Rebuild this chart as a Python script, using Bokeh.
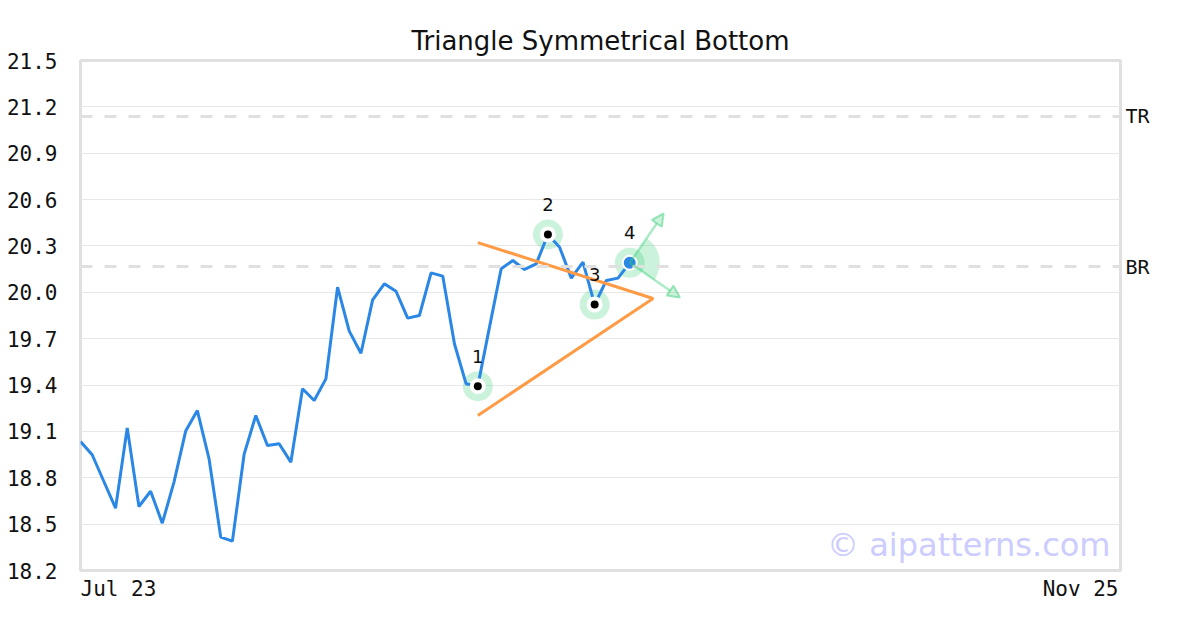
from bokeh.plotting import figure
from bokeh.models import (Range1d, FixedTicker, Span, Label, Arrow, NormalHead,
                          ColumnDataSource, PrintfTickFormatter, LinearAxis)
from bokeh.core.properties import value
from bokeh.embed import file_html
from bokeh.resources import INLINE
import math

# ---------------- data ----------------
title = "Triangle Symmetrical Bottom"
prices = [19.035, 18.949, 18.776, 18.603, 19.123, 18.614, 18.713, 18.506, 18.772, 19.102,
          19.235, 18.923, 18.416, 18.39, 18.951, 19.203, 19.009, 19.02, 18.901, 19.376,
          19.30, 19.44, 20.033, 19.749, 19.606, 19.951, 20.055, 20.007, 19.833, 19.85,
          20.126, 20.105, 19.667, 19.408, 19.393, 19.775, 20.152, 20.206, 20.148, 20.184,
          20.374, 20.292, 20.092, 20.195, 19.921, 20.077, 20.092, 20.191]
x_idx = list(range(len(prices)))
x_end = 89
x_tick_labels = ["Jul 23", "Nov 25"]
y_ticks = [18.2, 18.5, 18.8, 19.1, 19.4, 19.7, 20.0, 20.3, 20.6, 20.9, 21.2, 21.5]

pattern_idx = [34, 40, 44, 47]
pattern_labels = ["1", "2", "3", "4"]

tri_x = [34, 49, 34]
tri_y = [20.322, 19.96, 19.203]

level_names = ["TR", "BR"]
level_values = [21.138, 20.167]

arrow_targets_x = [49.9, 51.3]
arrow_targets_y = [20.51, 19.967]

watermark = "\u00a9 aipatterns.com"

# ---------------- layout constants ----------------
W, H = 1184, 614
BL, BR_, BT, BB = 80, 64, 60, 44
X_FONT_PX = 21
frame_w = W - BL - BR_
px_per_unit = frame_w / x_end

# ---------------- figure ----------------
p = figure(width=W, height=H, output_backend="svg", toolbar_location=None,
           x_range=Range1d(0, x_end), y_range=Range1d(y_ticks[0], y_ticks[-1]),
           min_border_left=BL, min_border_right=BR_, min_border_top=BT, min_border_bottom=BB,
           title=title)
p.title.align = "center"
p.title.text_font = "DejaVu Sans"
p.title.text_font_size = "26px"
p.title.text_font_style = "normal"
p.title.text_color = "#111111"
p.title.standoff = 10

p.xgrid.visible = False
p.yaxis.ticker = FixedTicker(ticks=y_ticks)
p.yaxis.formatter = PrintfTickFormatter(format="%.1f")
p.yaxis.major_label_text_font = "DejaVu Sans Mono"
p.yaxis.major_label_text_font_size = "21px"
p.yaxis.major_label_text_color = "#111111"
p.yaxis.axis_line_color = None
p.yaxis.major_tick_line_color = None
p.yaxis.major_tick_out = 0
p.yaxis.minor_tick_line_color = None
p.yaxis.major_label_standoff = 23
p.ygrid.ticker = FixedTicker(ticks=y_ticks)
p.ygrid.grid_line_color = "#e8e8e8"
p.ygrid.grid_line_width = 1
p.outline_line_color = "#e0e0e0"
p.outline_line_width = 3
p.background_fill_color = "white"


def styled_axis(axis, font_size):
    axis.axis_line_color = None
    axis.major_tick_line_color = None
    axis.minor_tick_line_color = None
    axis.major_tick_out = 0
    axis.major_tick_in = 0
    axis.minor_tick_out = 0
    axis.major_label_text_font = "DejaVu Sans Mono"
    axis.major_label_text_font_size = font_size
    axis.major_label_text_color = "#111111"
    return axis


# right axis for level names
r_axis = styled_axis(LinearAxis(ticker=FixedTicker(ticks=level_values),
                                major_label_overrides=dict(zip(level_values, level_names))), "20px")
r_axis.major_label_standoff = 5
p.add_layout(r_axis, "right")

# bottom axis: first date flush left, last date flush right (centred labels shifted by half width)
half_w = [len(s) * 0.602 * X_FONT_PX / 2 / px_per_unit for s in x_tick_labels]
x_tick_pos = [0 + half_w[0], x_end - half_w[1] - 2 / px_per_unit]
xa = p.xaxis[0]
xa.ticker = FixedTicker(ticks=x_tick_pos)
xa.major_label_overrides = dict(zip(x_tick_pos, x_tick_labels))
styled_axis(xa, "%dpx" % X_FONT_PX)
xa.major_label_standoff = 6

# level lines
for lv in level_values:
    p.add_layout(Span(location=lv, dimension="width", line_color="#e0e0e0",
                      line_width=3, line_dash="12 12"))

green = "#2ecc71"
px = [x_idx[i] for i in pattern_idx]
py = [prices[i] for i in pattern_idx]
src = ColumnDataSource(dict(x=px, y=py, t=pattern_labels))

# halos
p.scatter(x="x", y="y", source=src, size=30, fill_color=green, fill_alpha=0.25, line_color=None)

# wedge at last point between arrow directions
a_up = math.atan2(49, 34)
a_dn = -math.atan2(35, 50)
p.wedge(x=[px[-1]], y=[py[-1]], radius=30, radius_units="screen",
        start_angle=a_dn, end_angle=a_up, fill_color=green, fill_alpha=0.25, line_color=None)

# price line
p.line(x_idx, prices, line_color="#2a87e5", line_width=3)

# triangle
p.line(tri_x, tri_y, line_color="#ff9a45", line_width=3)

# arrows
for tx, ty in zip(arrow_targets_x, arrow_targets_y):
    p.add_layout(Arrow(x_start=px[-1], y_start=py[-1], x_end=tx, y_end=ty,
                       line_color=green, line_alpha=0.4, line_width=2.5,
                       end=NormalHead(size=12, fill_color=green, fill_alpha=0.25,
                                      line_color=green, line_alpha=0.45, line_width=2)))

# markers
src3 = ColumnDataSource(dict(x=px[:3], y=py[:3]))
p.scatter(x="x", y="y", source=src3, size=16, fill_color="white", line_color=None)
p.scatter(x="x", y="y", source=src3, size=8, fill_color="black", line_color=None)
p.scatter(x=[px[-1]], y=[py[-1]], size=14, fill_color="#2a87e5", line_color="white", line_width=2)

# numbers
p.text(x="x", y="y", text="t", source=src, text_align="center", text_baseline="alphabetic",
       y_offset=-30, text_font=value("DejaVu Sans"), text_font_size="18px", text_color="#111111")

# watermark
p.add_layout(Label(x=x_end, y=y_ticks[0], x_offset=-10, y_offset=26, text=watermark,
                   text_align="right", text_baseline="alphabetic",
                   text_font="DejaVu Sans", text_font_size="32px", text_color="#ccccff"))

open("out.html", "w").write(file_html(p, INLINE))
